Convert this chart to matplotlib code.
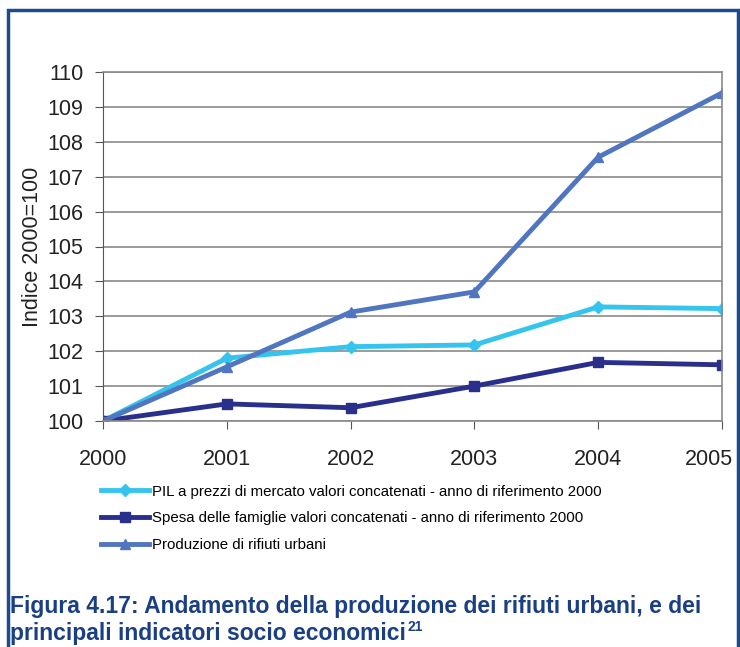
import matplotlib
matplotlib.use("Agg")
import matplotlib.pyplot as plt
import matplotlib.transforms as mtrans
from matplotlib.patches import Rectangle

years = [2000, 2001, 2002, 2003, 2004, 2005]
pil = [100, 101.80, 102.13, 102.18, 103.27, 103.22]
spesa = [100, 100.49, 100.38, 101.00, 101.68, 101.61]
rifiuti = [100, 101.55, 103.12, 103.70, 107.56, 109.40]
series_labels = [
    "PIL a prezzi di mercato valori concatenati - anno di riferimento 2000",
    "Spesa delle famiglie valori concatenati - anno di riferimento 2000",
    "Produzione di rifiuti urbani",
]
y_label = "Indice 2000=100"
title_lines = [
    "Figura 4.17: Andamento della produzione dei rifiuti urbani, e dei",
    "principali indicatori socio economici",
]
footnote = "21"

plt.rcParams['font.family'] = ['Liberation Sans', 'DejaVu Sans']

fig = plt.figure(figsize=(7.40, 6.47), dpi=100)
ax = fig.add_axes([103/740, 1 - 421/647, (722 - 103)/740, (421 - 72)/647])

ax.plot(years, pil, color='#35c4ee', lw=3.5, marker='D', ms=6, label=series_labels[0])
ax.plot(years, spesa, color='#2a2f8c', lw=3.5, marker='s', ms=7, label=series_labels[1])
ax.plot(years, rifiuti, color='#5076bf', lw=3.5, marker='^', ms=7, label=series_labels[2])

ax.set_xlim(2000, 2005)
ax.set_ylim(100, 110)
ax.set_yticks(range(100, 111))
ax.set_xticks(years)
ax.grid(axis='y', color='#8a8a8a', lw=1.2)
ax.set_axisbelow(True)
for side in ['top', 'right', 'bottom']:
    ax.spines[side].set_color('#8a8a8a')
    ax.spines[side].set_linewidth(1.2)
ax.spines['left'].set_color('#555555')
ax.tick_params(axis='both', labelsize=15.5, colors='#222222', length=6, color='#555555')
ax.tick_params(axis='x', pad=14)
ax.tick_params(axis='y', pad=8)
ax.set_ylabel(y_label, fontsize=15.5, color='#222222', labelpad=3)

# l'ultima etichetta sta dentro la cornice
last = ax.get_xticklabels()[-1]
last.set_ha('right')
last.set_transform(last.get_transform() +
                   mtrans.ScaledTranslation(0.11, 0, fig.dpi_scale_trans))

ax.legend(loc='upper left', bbox_to_anchor=(-0.013, -0.165), frameon=False,
          fontsize=10.8, handlelength=3.2, handletextpad=0.2, labelspacing=0.85,
          borderaxespad=0)

# cornice blu
fig.patches.append(Rectangle((8/740, -0.05), 730/740, 1 - 10/647 + 0.05,
                             transform=fig.transFigure, fill=False,
                             edgecolor='#1d4c8e', lw=2.5))

tcol = '#1a3f82'
fig.text(10/740, 1 - 613/647, title_lines[0], fontsize=16.5, fontweight='bold', color=tcol)
t2 = fig.text(10/740, 1 - 640/647, title_lines[1], fontsize=16.5, fontweight='bold', color=tcol)
fig.canvas.draw()
bb = t2.get_window_extent()
fig.text(bb.x1 / fig.bbox.width + 0.002, 1 - 631/647, footnote, fontsize=10,
         fontweight='bold', color=tcol)

fig.savefig("out.png", dpi=100)
